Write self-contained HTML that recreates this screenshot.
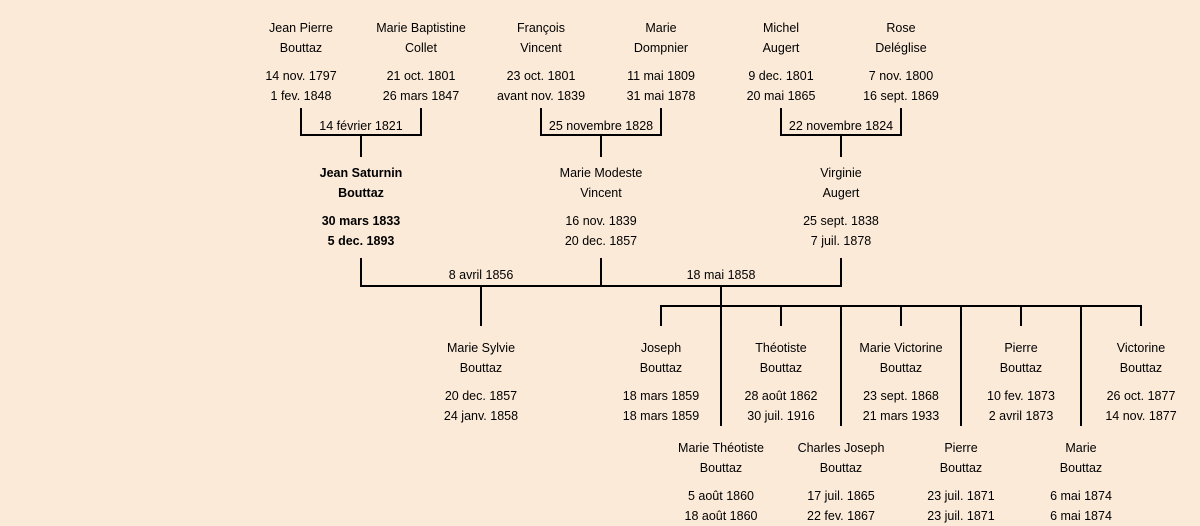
<!DOCTYPE html>
<html><head><meta charset="utf-8"><style>
body{margin:0;width:1200px;height:521px;background:#fbead8;overflow:hidden;position:relative;font-family:"Liberation Sans",sans-serif;font-size:12.5px;color:#000}
.t{position:absolute;width:200px;text-align:center;line-height:20px;white-space:nowrap;margin-top:1px}
.b{font-weight:bold}
svg{position:absolute;left:0;top:0}
</style></head><body>
<svg width="1200" height="521" stroke="#000" stroke-width="2" fill="none">
<path d="M301 108V135H421V108M361 135V157"/>
<path d="M541 108V135H661V108M601 135V157"/>
<path d="M781 108V135H901V108M841 135V157"/>
<path d="M361 258V286H841V258M601 258V286M481 286V326M721 286V306"/>
<path d="M661 326V306H1141V326M781 306V326M901 306V326M1021 306V326"/>
<path d="M721 306V426M841 306V426M961 306V426M1081 306V426"/>
</svg>
<div class="t" style="left:201px;top:17px">Jean Pierre<br>Bouttaz</div>
<div class="t" style="left:201px;top:65px">14 nov. 1797<br>1 fev. 1848</div>
<div class="t" style="left:321px;top:17px">Marie Baptistine<br>Collet</div>
<div class="t" style="left:321px;top:65px">21 oct. 1801<br>26 mars 1847</div>
<div class="t" style="left:441px;top:17px">François<br>Vincent</div>
<div class="t" style="left:441px;top:65px">23 oct. 1801<br>avant nov. 1839</div>
<div class="t" style="left:561px;top:17px">Marie<br>Dompnier</div>
<div class="t" style="left:561px;top:65px">11 mai 1809<br>31 mai 1878</div>
<div class="t" style="left:681px;top:17px">Michel<br>Augert</div>
<div class="t" style="left:681px;top:65px">9 dec. 1801<br>20 mai 1865</div>
<div class="t" style="left:801px;top:17px">Rose<br>Deléglise</div>
<div class="t" style="left:801px;top:65px">7 nov. 1800<br>16 sept. 1869</div>
<div class="t" style="left:261px;top:115px">14 février 1821</div>
<div class="t" style="left:501px;top:115px">25 novembre 1828</div>
<div class="t" style="left:741px;top:115px">22 novembre 1824</div>
<div class="t b" style="left:261px;top:162px">Jean Saturnin<br>Bouttaz</div>
<div class="t b" style="left:261px;top:210px">30 mars 1833<br>5 dec. 1893</div>
<div class="t" style="left:501px;top:162px">Marie Modeste<br>Vincent</div>
<div class="t" style="left:501px;top:210px">16 nov. 1839<br>20 dec. 1857</div>
<div class="t" style="left:741px;top:162px">Virginie<br>Augert</div>
<div class="t" style="left:741px;top:210px">25 sept. 1838<br>7 juil. 1878</div>
<div class="t" style="left:381px;top:264px">8 avril 1856</div>
<div class="t" style="left:621px;top:264px">18 mai 1858</div>
<div class="t" style="left:381px;top:337px">Marie Sylvie<br>Bouttaz</div>
<div class="t" style="left:381px;top:385px">20 dec. 1857<br>24 janv. 1858</div>
<div class="t" style="left:561px;top:337px">Joseph<br>Bouttaz</div>
<div class="t" style="left:561px;top:385px">18 mars 1859<br>18 mars 1859</div>
<div class="t" style="left:681px;top:337px">Théotiste<br>Bouttaz</div>
<div class="t" style="left:681px;top:385px">28 août 1862<br>30 juil. 1916</div>
<div class="t" style="left:801px;top:337px">Marie Victorine<br>Bouttaz</div>
<div class="t" style="left:801px;top:385px">23 sept. 1868<br>21 mars 1933</div>
<div class="t" style="left:921px;top:337px">Pierre<br>Bouttaz</div>
<div class="t" style="left:921px;top:385px">10 fev. 1873<br>2 avril 1873</div>
<div class="t" style="left:1041px;top:337px">Victorine<br>Bouttaz</div>
<div class="t" style="left:1041px;top:385px">26 oct. 1877<br>14 nov. 1877</div>
<div class="t" style="left:621px;top:437px">Marie Théotiste<br>Bouttaz</div>
<div class="t" style="left:621px;top:485px">5 août 1860<br>18 août 1860</div>
<div class="t" style="left:741px;top:437px">Charles Joseph<br>Bouttaz</div>
<div class="t" style="left:741px;top:485px">17 juil. 1865<br>22 fev. 1867</div>
<div class="t" style="left:861px;top:437px">Pierre<br>Bouttaz</div>
<div class="t" style="left:861px;top:485px">23 juil. 1871<br>23 juil. 1871</div>
<div class="t" style="left:981px;top:437px">Marie<br>Bouttaz</div>
<div class="t" style="left:981px;top:485px">6 mai 1874<br>6 mai 1874</div>
</body></html>
